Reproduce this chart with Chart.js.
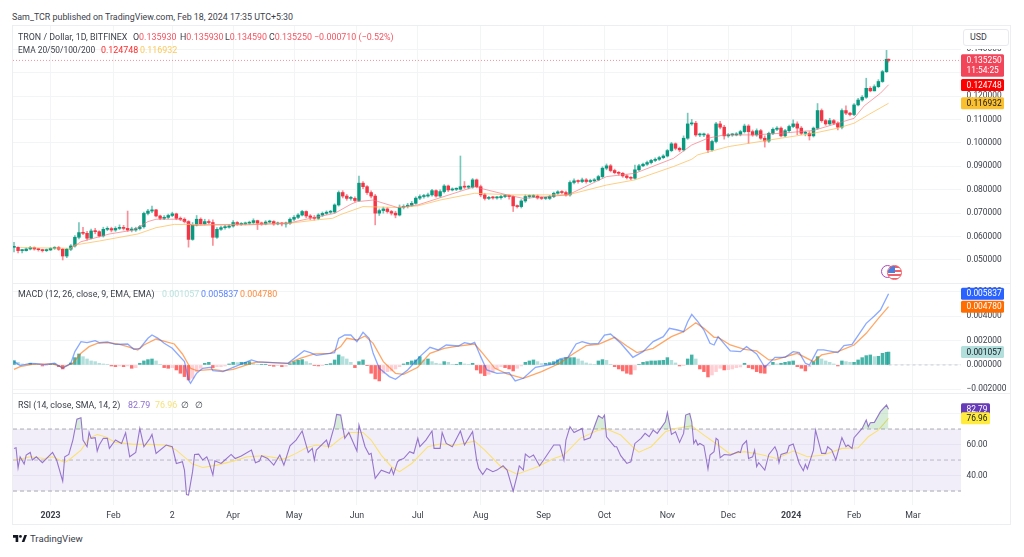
<!DOCTYPE html>
<html>
<head>
<meta charset="utf-8">
<title>TRON / Dollar</title>
<script src="https://cdn.jsdelivr.net/npm/chart.js@4/dist/chart.umd.js"></script>
<style>
  html, body { margin: 0; padding: 0; background: #fff; overflow: hidden; }
  body { width: 1024px; height: 557px; position: relative; font-family: Roboto, sans-serif; color: #3c404a; filter: blur(0.35px); }
  .abs { position: absolute; white-space: nowrap; }
  .txt { font-size: 8.9px; line-height: 12px; }
  canvas { position: absolute; left: 13px; }
  #frame { position: absolute; left: 12px; top: 25px; width: 999px; height: 500px; border: 1px solid #eceef2; box-sizing: border-box; }
  .sep { position: absolute; left: 13px; width: 998px; height: 1px; background: #eceef2; }
  .red { color: #f7525f; }
</style>
</head>
<body>
<div id="frame"></div>
<canvas id="price-chart" style="top:26px"></canvas>
<canvas id="macd-chart" style="top:284px"></canvas>
<canvas id="rsi-chart" style="top:394px"></canvas>
<div class="sep" style="top:283px"></div>
<div class="sep" style="top:393px"></div>

<div class="abs txt" style="left:12px;top:11px">Sam_TCR published on TradingView.com, Feb 18, 2024 17:35 UTC+5:30</div>
<div class="abs txt" style="left:18px;top:31px">TRON / Dollar, 1D, BITFINEX</div>
<div class="abs txt" style="left:133px;top:31px">O<span class="red">0.135930</span></div>
<div class="abs txt" style="left:180px;top:31px">H<span class="red">0.135930</span></div>
<div class="abs txt" style="left:225px;top:31px">L<span class="red">0.134590</span></div>
<div class="abs txt" style="left:269px;top:31px">C<span class="red">0.135250</span></div>
<div class="abs txt red" style="left:314px;top:31px">−0.000710 (−0.52%)</div>
<div class="abs txt" style="left:18px;top:44px;font-size:8.4px">EMA 20/50/100/200</div>
<div class="abs txt" style="left:101px;top:44px;color:#ff2a2a">0.124748</div>
<div class="abs txt" style="left:140px;top:44px;color:#fbc95a">0.116932</div>
<div class="abs txt" style="left:18px;top:288px">MACD (12, 26, close, 9, EMA, EMA)</div>
<div class="abs txt" style="left:162px;top:288px;color:#b9e2dd">0.001057</div>
<div class="abs txt" style="left:201px;top:288px;color:#5a83ff">0.005837</div>
<div class="abs txt" style="left:240px;top:288px;color:#ff8a3c">0.004780</div>
<div class="abs txt" style="left:18px;top:399px">RSI (14, close, SMA, 14, 2)</div>
<div class="abs txt" style="left:128px;top:399px;color:#8e6fd0">82.79</div>
<div class="abs txt" style="left:155px;top:399px;color:#f5e27a">76.96</div>
<div class="abs txt" style="left:181px;top:399px">∅</div>
<div class="abs txt" style="left:195px;top:399px">∅</div>

<!-- covers the upper half of the 0.14 tick like the original scale button -->
<div class="abs" style="left:961px;top:26px;width:49px;height:23px;background:#fff"></div>
<div class="abs txt" style="left:963px;top:29px;width:46px;height:17px;line-height:15px;border:1px solid #e8eaef;border-radius:3px;box-sizing:border-box;padding-left:6px;background:#fff">USD</div>

<!-- event markers -->
<div class="abs" style="left:881px;top:265px;width:13px;height:13px;border:1.5px solid #ab47bc;border-radius:50%;box-sizing:border-box;background:#fff"></div>
<div class="abs" style="left:887px;top:265px;width:15px;height:15px;border:1.5px solid #f0606a;border-radius:50%;box-sizing:border-box;overflow:hidden;background:repeating-linear-gradient(#f0606a 0 2px,#fff 2px 4px)">
  <div style="width:7px;height:7px;background:#4a7fe0"></div>
</div>

<svg class="abs" style="left:13px;top:535px" width="14" height="7" viewBox="0 0 16 8">
  <path d="M0 0h6v8H3V3H0z M10 8l3-8h3l-3 8z" fill="#131722"/><circle cx="8.5" cy="1.6" r="1.6" fill="#131722"/>
</svg>
<div class="abs" style="left:30px;top:532px;font-size:9.6px;line-height:13px;color:#3a3e48">TradingView</div>

<script>
// candle table, one row per 2 days. x = days since 2023-01-01, prices in 1/10000 USD
const PRICE_UNIT = 0.0001;
const MACD_UNIT = 0.000001;

const candleDays = [
  -18,-16,-14,-12,-10,-8,-6,-4,-2,0,
  2,4,6,8,10,12,14,16,18,20,
  22,24,26,28,30,32,34,36,38,40,
  42,44,46,48,50,52,54,56,58,60,
  62,64,66,68,70,72,74,76,78,80,
  82,84,86,88,90,92,94,96,98,100,
  102,104,106,108,110,112,114,116,118,120,
  122,124,126,128,130,132,134,136,138,140,
  142,144,146,148,150,152,154,156,158,160,
  162,164,166,168,170,172,174,176,178,180,
  182,184,186,188,190,192,194,196,198,200,
  202,204,206,208,210,212,214,216,218,220,
  222,224,226,228,230,232,234,236,238,240,
  242,244,246,248,250,252,254,256,258,260,
  262,264,266,268,270,272,274,276,278,280,
  282,284,286,288,290,292,294,296,298,300,
  302,304,306,308,310,312,314,316,318,320,
  322,324,326,328,330,332,334,336,338,340,
  342,344,346,348,350,352,354,356,358,360,
  362,364,366,368,370,372,374,376,378,380,
  382,384,386,388,390,392,394,396,398,400,
  402,404,406,408,410,412,413
];
const firstOpen = 554;
const closes = [
  554,540,540,547,553,547,544,540,543,550,
  553,546,517,546,560,597,617,614,593,624,
  621,603,631,634,628,635,638,635,628,628,
  634,642,699,709,714,688,678,682,690,697,
  678,674,664,588,650,674,654,664,660,597,
  631,638,640,645,660,652,654,657,660,668,
  657,654,662,664,654,657,654,657,674,682,
  692,707,688,682,678,692,699,704,705,735,
  788,773,763,763,754,828,813,788,773,700,
  711,718,707,700,692,725,728,734,742,764,
  771,773,778,796,773,792,816,799,802,802,
  813,811,811,842,813,778,763,766,765,766,
  771,773,771,731,728,752,771,771,773,765,
  763,763,771,785,791,788,778,831,838,835,
  842,835,838,842,856,892,902,882,873,870,
  859,852,849,885,902,909,916,925,930,937,
  944,967,996,977,970,1020,1081,1084,1034,1034,
  1034,970,1006,1081,1067,1030,1034,1034,1037,1048,
  1072,1048,1034,1052,1020,1008,1041,1058,1063,1030,
  1052,1070,1081,1063,1041,1041,1030,1063,1138,1095,
  1081,1095,1084,1067,1138,1127,1121,1162,1183,1195,
  1233,1222,1240,1262,1304,1357,1352
];
const highs = [
  575,556,546,552,558,556,549,546,547,553,
  557,558,550,550,566,604,660,640,622,632,
  635,625,640,642,640,642,650,648,709,640,
  640,648,705,716,730,716,692,690,696,704,
  700,684,680,668,660,690,680,674,672,672,
  638,645,648,652,668,664,660,662,666,676,
  670,662,668,670,668,662,660,662,680,690,
  698,712,710,694,690,698,705,710,712,740,
  795,796,780,772,770,858,835,818,795,780,
  718,726,724,712,708,735,736,742,750,770,
  778,780,786,802,800,800,822,820,808,808,
  944,835,818,848,846,820,785,772,772,772,
  776,780,778,774,735,758,778,778,780,778,
  770,768,776,790,796,796,794,838,846,842,
  850,848,845,848,862,898,910,908,888,878,
  874,864,856,905,908,914,922,930,936,943,
  950,972,1002,1000,982,1030,1127,1100,1092,1042,
  1042,1040,1012,1088,1092,1075,1040,1040,1044,1054,
  1080,1078,1055,1060,1058,1030,1046,1064,1070,1068,
  1058,1076,1098,1090,1070,1050,1048,1068,1168,1145,
  1100,1105,1100,1090,1145,1158,1130,1168,1190,1202,
  1276,1240,1248,1270,1310,1395,1359
];
const lows = [
  535,530,530,538,543,542,538,534,536,540,
  545,541,500,510,540,555,590,608,585,590,
  612,598,598,625,620,622,630,628,622,620,
  622,628,636,692,702,684,672,672,676,685,
  672,668,658,555,584,645,650,650,655,562,
  592,626,632,636,640,648,648,650,652,654,
  630,648,650,658,648,650,646,640,652,668,
  676,688,680,672,670,672,686,694,698,700,
  730,765,755,755,748,750,805,780,765,650,
  690,700,700,692,680,688,718,722,728,738,
  758,764,768,772,768,768,786,792,795,796,
  798,805,804,806,808,770,756,758,760,760,
  760,766,760,707,722,722,746,764,766,760,
  758,758,758,766,780,782,772,772,825,828,
  830,828,830,834,838,850,885,876,868,862,
  853,846,843,845,880,898,904,910,920,925,
  932,940,962,970,962,965,1015,1075,1028,1026,
  1026,958,965,1000,1060,1016,1024,1028,1030,1030,
  1042,998,1028,1028,1015,982,1002,1035,1052,1025,
  1026,1046,1065,1035,1035,1030,1012,1025,1058,1088,
  1075,1076,1078,1055,1060,1120,1115,1116,1158,1178,
  1190,1218,1222,1236,1258,1300,1345
];

const ema20Days = [10,15,29,41,48,52,64,70,80,97,117,126,140,148,151,159,171,181,209,212,225,233,255,274,288,307,316,324,332,347,360,376,388,396,401,409,413];
const ema20 = [550,578,611,628,664,674,674,647,650,650,657,674,699,738,749,756,724,735,813,806,778,763,778,856,870,934,991,1020,1034,1034,1041,1053,1084,1105,1158,1212,1248];
const ema50Days = [-15,10,12,24,43,52,61,80,107,118,131,139,143,154,171,181,192,209,227,255,274,288,307,316,319,325,334,360,376,388,396,403,413];
const ema50 = [553,550,564,581,611,638,652,651,654,657,671,678,694,728,724,731,756,785,778,778,820,842,899,930,949,963,984,1020,1041,1063,1084,1120,1169];

// MACD in millionths
const histValues = [
  355,218,82,55,137,82,55,-82,-55,55,
  82,-137,-328,-82,164,600,900,680,490,330,
  273,137,82,55,-82,-137,-82,-137,-82,-273,
  -218,137,330,437,490,330,55,-218,-273,-218,
  -410,-680,-955,-1230,-1090,-546,-273,137,218,-218,
  -137,-137,-82,82,218,190,218,218,273,110,
  55,55,55,-27,-110,-55,-137,-110,110,273,
  382,437,273,137,-27,-82,-55,27,110,410,
  820,680,490,218,-218,273,410,-55,-680,-1147,
  -1310,-680,-546,-490,-328,-137,82,218,328,410,
  680,410,490,273,137,82,273,218,55,55,
  218,82,55,137,-410,-680,-874,-764,-600,-328,
  -137,-218,-328,-490,-273,-82,218,328,410,273,
  110,137,190,273,410,464,600,600,600,490,
  328,164,82,55,328,437,382,55,-137,-328,
  -490,-680,-764,-410,55,218,273,328,328,355,
  382,600,382,164,-82,-55,490,820,490,-328,
  -546,-983,-820,-546,-273,-410,-382,-328,-218,-164,
  137,-218,-328,-546,-655,-683,-82,218,82,137,
  218,273,328,-137,-273,-490,-137,273,683,490,
  328,218,82,-82,328,273,218,218,410,600,
  764,820,683,710,955,1037,1057
];
const macdDays = [-18,-15,-10,-7,-3,2,6,10,12,15,18,22,24,28,32,38,41,44,48,50,53,56,60,66,68,69,72,75,79,80,85,90,99,102,117,125,128,131,140,142,145,148,151,154,157,159,162,167,170,176,182,187,191,195,201,204,207,209,212,215,220,226,229,233,239,248,251,255,259,262,266,270,273,276,281,287,292,297,302,305,309,312,314,316,319,322,325,327,329,335,340,343,348,352,357,362,366,369,372,374,378,381,388,391,395,402,406,409,413];
const macdLine = [273,-55,137,109,27,137,-273,137,1092,1911,1829,1993,1829,1884,1693,1720,1283,1365,2184,2457,2184,1775,1365,273,-1229,-1502,-683,-273,-191,-464,-546,-191,410,246,137,1174,1010,792,1010,2184,2457,2457,1911,2675,2184,956,-273,-956,-1174,-410,683,1447,1229,1638,1556,1829,1720,1856,683,-410,-683,-628,-1310,-1092,-191,82,491,628,1720,1911,1720,1775,2457,2539,1775,628,1092,1911,2320,3003,2867,2730,3549,4150,3549,2867,1775,1638,2320,1147,1092,1502,901,-191,628,628,1092,1010,137,0,1229,1229,1010,1583,1693,3413,4013,4505,5837];
const signalDays = [-18,-15,-9,1,6,11,15,19,23,28,33,38,43,46,52,61,65,69,72,80,85,90,99,102,117,123,130,138,143,146,151,155,159,164,170,174,181,187,194,200,209,213,219,225,233,242,251,258,264,270,278,284,289,297,306,312,318,322,327,329,335,342,348,354,357,368,376,380,388,396,402,408,413];
const signalLine = [-355,-137,55,82,-191,137,956,1502,1775,1829,1720,1502,1229,1638,2129,1720,901,-273,-464,-355,-491,-355,137,246,137,546,901,956,1502,2184,2048,2375,1775,273,-683,-764,-191,956,1365,1529,1720,956,-273,-737,-1092,-546,137,956,1583,1693,2266,1556,1010,1365,2320,2730,3467,3003,2266,2266,1638,1283,1147,410,410,956,273,819,1092,1638,2594,3822,4780];

const rsiDays = [-18,-17,-16,-15,-13,-12,-10,-9,-7,-4,1,3,6,7,9,11,13,15,16,18,19,20,22,23,24,26,28,29,32,35,37,39,42,44,46,49,50,52,57,60,62,65,66,67,68,70,71,73,75,77,78,80,81,84,85,89,91,94,99,101,103,104,107,110,113,115,118,121,124,127,129,130,131,136,137,140,141,143,145,147,149,151,152,155,157,158,160,163,167,168,169,171,172,174,177,179,181,182,185,188,189,192,193,195,198,202,204,208,210,211,213,215,218,220,223,225,228,230,231,233,234,236,238,241,243,248,251,253,254,256,258,262,263,266,270,272,273,274,278,279,281,284,286,288,291,293,295,297,299,303,304,306,308,310,312,313,315,316,317,318,319,320,322,324,325,327,328,329,330,332,335,339,340,341,343,344,346,347,348,349,352,354,357,358,359,360,363,364,366,369,371,372,373,376,377,380,382,383,385,387,390,392,393,395,396,400,402,403,404,406,409,412,413];
const rsiLine = [57.5,57.9,45,52.1,47.4,53.2,54.9,50,52.1,48.3,54.9,50,36.4,52.1,53.6,62.9,76.4,77.3,62.9,58.6,67.8,64,64.4,55.8,59.7,64,64,57.5,62.9,60.7,67.6,52.1,54.9,70.4,58.6,64,66.5,54.3,59.7,58.6,47.8,48.9,43.5,27.8,27.4,42.5,53.6,53.8,50,52.1,48.9,40.3,49.5,47.8,48.9,53.6,51,52.6,56.4,48.3,49.3,52.8,51,46.7,53.2,46.7,59.2,62.9,68.7,54.9,57.5,50,56.4,62.9,58.6,72.5,79.4,79,64,67.8,61.8,55.8,72.6,58.6,53.6,54.3,38.2,43.5,41.4,44.6,40.7,48.9,50,51,55.4,54.3,64,58.6,62.9,68.7,57.5,57.5,67.8,60.7,58.6,68.7,59.7,68.3,50,44.6,40.7,44.6,42.5,43.5,46.3,43.5,30,40.3,46.3,43.5,53.8,51.7,53.2,46.3,50,59.7,59.7,50,62.9,71.5,67.8,70.4,62.9,64.4,78.6,76.9,79,65,58.6,58.6,52.8,47.8,48.9,60.7,64,67.2,65,69.3,67.2,74.7,80.7,66.5,68.2,61.4,67.2,79,80,74.7,60.7,62.9,59.7,60.7,59.2,44.2,53.2,55.4,64,62.9,51.5,53.6,53.2,55.4,54.9,59.7,62.4,51,52.1,56.4,45.7,48.3,43.5,53.6,58.6,55.4,48.3,53.6,54.9,59.2,60.3,47.8,43.1,47.2,44.2,56.4,69.3,54.3,54.3,58.6,56.4,50,64.4,58.6,59.7,57.5,64.4,70.4,75.8,71.5,74.1,74.3,81.2,85.5,82.79];
const rsiMaDays = [-18,-15,-10,-3,1,7,10,15,19,23,27,32,41,48,57,62,70,75,82,90,97,105,115,121,126,131,138,143,148,154,158,163,168,172,178,186,192,200,209,214,222,230,240,248,253,261,270,274,281,288,290,296,303,308,316,322,329,335,342,350,358,366,373,381,390,398,403,408,413];
const rsiMaLine = [50,50.6,52.1,51,52.1,48.5,51,56.4,64,66.5,65,61.4,60.1,60.1,59.7,56.4,47.4,45.2,46.7,49.3,52.1,52.8,50.6,54.3,57.9,59.7,58.6,64,67.8,67.8,62.9,53.2,45.7,42.5,47.8,58.6,60.3,59.7,62.2,56.4,45.7,40.9,45.7,51,53.2,64,69.3,70,66.1,57.1,55.1,58.6,68.2,70.4,72.1,66.1,59.7,53.8,55.4,53.6,51,55.8,52.1,53.2,57.5,57.9,65,69.3,76.96];

// time axis
const monthDays = [0,31,60,90,120,151,181,212,243,273,304,334,365,396,425];
const monthLabels = ['2023','Feb','2','Apr','May','Jun','Jul','Aug','Sep','Oct','Nov','Dec','2024','Feb','Mar'];
const priceTicks = [0.05,0.06,0.07,0.08,0.09,0.10,0.11,0.12,0.13,0.14];
const macdTicks = [-0.002,0,0.002,0.004,0.006];
const rsiTicks = [40,60,80];

const FONT = 'Roboto, sans-serif';
const UP = '#089981', DOWN = '#f23645';
const X_MIN = -18.5, X_MAX = 448.7;
const AXIS_WIDTH = 50;

const opens = closes.map((c, i) => i === 0 ? firstOpen : closes[i - 1]);

function pts(days, values, unit = 1) {
  return days.map((d, i) => ({ x: d, y: values[i] * unit }));
}

function line(days, values, color, width, unit = 1, extra = {}) {
  return Object.assign({
    type: 'line', data: pts(days, values, unit), borderColor: color, borderWidth: width,
    pointRadius: 0, tension: 0, fill: false, order: 1
  }, extra);
}

// price tags on the right scale
function tagPlugin(tags) {
  return {
    id: 'tags',
    afterDraw(chart) {
      const c = chart.ctx, scale = chart.scales.y, left = chart.chartArea.right;
      tags.forEach(t => {
        const y = scale.getPixelForValue(t.value);
        const h = t.lines.length * 10.5 + 1.5;
        c.fillStyle = t.bg;
        c.beginPath();
        c.roundRect(left, y - 6, t.width, h, 1.5);
        c.fill();
        c.fillStyle = t.color;
        c.font = '8.4px ' + FONT;
        c.textBaseline = 'middle';
        c.textAlign = 'left';
        t.lines.forEach((s, i) => c.fillText(s, left + 5.5, y + i * 10.5 + 0.5));
      });
    }
  };
}

function baseOptions(yMin, yMax, yTicks, yFormat, showTime) {
  return {
    responsive: false,
    animation: false,
    layout: { padding: 0 },
    plugins: { legend: { display: false }, tooltip: { enabled: false } },
    scales: {
      x: {
        type: 'linear', min: X_MIN, max: X_MAX, offset: false,
        afterBuildTicks: s => { s.ticks = monthDays.map(v => ({ value: v })); },
        afterFit: s => { s.height = showTime ? 20 : 0; s.paddingLeft = 0; s.paddingRight = 0; },
        grid: { color: '#f3f4f6', drawTicks: false, offset: false },
        border: { display: false },
        ticks: {
          display: showTime, autoSkip: false, maxRotation: 0, padding: 6, color: '#3c404a',
          font: ctx => ({ family: FONT, size: 8.8, weight: (ctx.tick && ctx.tick.value % 365 === 0) ? 'bold' : 'normal' }),
          callback: v => monthLabels[monthDays.indexOf(v)]
        }
      },
      y: {
        position: 'right', min: yMin, max: yMax,
        afterBuildTicks: s => { s.ticks = yTicks.map(v => ({ value: v })); },
        afterFit: s => { s.width = AXIS_WIDTH; s.paddingTop = 0; s.paddingBottom = 0; },
        grid: { color: '#f3f4f6', drawTicks: false },
        border: { display: false },
        ticks: { padding: 5.5, color: '#3c404a', font: { family: FONT, size: 8.4 }, callback: yFormat }
      }
    }
  };
}

function size(id, h) {
  const el = document.getElementById(id);
  el.width = 998; el.height = h;
  el.style.width = '998px'; el.style.height = h + 'px';
  return el;
}

const lastClose = closes[closes.length - 1];

new Chart(size('price-chart', 257), {
  type: 'bar',
  data: {
    datasets: [
      { data: candleDays.map((d, i) => ({ x: d, y: [lows[i] * PRICE_UNIT, highs[i] * PRICE_UNIT] })),
        backgroundColor: closes.map((c, i) => c >= opens[i] ? 'rgba(8,153,129,.55)' : 'rgba(242,54,69,.55)'),
        barThickness: 1, grouped: false, order: 3 },
      { data: candleDays.map((d, i) => ({ x: d, y: [opens[i] * PRICE_UNIT, closes[i] * PRICE_UNIT] })),
        backgroundColor: closes.map((c, i) => c >= opens[i] ? UP : DOWN),
        barThickness: 2.8, minBarLength: 1, grouped: false, order: 2 },
      line(ema20Days, ema20, 'rgba(244,110,120,.65)', 1, PRICE_UNIT),
      line(ema50Days, ema50, 'rgba(253,190,90,.75)', 1, PRICE_UNIT),
      line([X_MIN, X_MAX], [lastClose, lastClose], 'rgba(242,54,69,.55)', 1, PRICE_UNIT, { borderDash: [1, 2] })
    ]
  },
  options: baseOptions(0.04018, 0.1499, priceTicks, v => v.toFixed(6), false),
  plugins: [tagPlugin([
    { value: 0.13525, lines: ['0.135250', '11:54:25'], bg: '#f2455a', color: '#fff', width: 43 },
    { value: 0.124748, lines: ['0.124748'], bg: '#ff0000', color: '#fff', width: 43 },
    { value: 0.116932, lines: ['0.116932'], bg: '#fbc02d', color: '#131722', width: 43 }
  ])]
});

new Chart(size('macd-chart', 109), {
  type: 'bar',
  data: {
    datasets: [
      { data: candleDays.map((d, i) => ({ x: d, y: histValues[i] * MACD_UNIT })),
        backgroundColor: histValues.map((v, i) => {
          const rising = i === 0 || v >= histValues[i - 1];
          if (v >= 0) return rising ? 'rgba(38,166,154,.85)' : '#b2dfdb';
          return rising ? '#ffcdd2' : 'rgba(255,82,82,.85)';
        }),
        barThickness: 2.8, order: 3 },
      line(macdDays, macdLine, 'rgba(41,98,255,.55)', 1.3, MACD_UNIT),
      line(signalDays, signalLine, 'rgba(255,109,0,.6)', 1.3, MACD_UNIT),
      line([413, X_MAX], [0, 0], '#c9ccd3', 1, 1, { borderDash: [3, 3] })
    ]
  },
  options: baseOptions(-0.0023, 0.00664, macdTicks, v => v < 0 ? '−' + Math.abs(v).toFixed(6) : v.toFixed(6), false),
  plugins: [tagPlugin([
    { value: 0.005837, lines: ['0.005837'], bg: '#2962ff', color: '#fff', width: 43 },
    { value: 0.00478, lines: ['0.004780'], bg: '#ff6d00', color: '#fff', width: 43 },
    { value: 0.001057, lines: ['0.001057'], bg: '#b2dfdb', color: '#131722', width: 43 }
  ])]
});

new Chart(size('rsi-chart', 131), {
  type: 'bar',
  data: {
    datasets: [
      // 30..70 band
      line([X_MIN, X_MAX], [70, 70], '#a9abb1', 1, 1, { borderDash: [4, 3], fill: '+1', backgroundColor: 'rgba(126,87,194,.1)', order: 5 }),
      line([X_MIN, X_MAX], [30, 30], '#a9abb1', 1, 1, { borderDash: [4, 3], order: 5 }),
      line([X_MIN, X_MAX], [50, 50], '#c2c4c9', 1, 1, { borderDash: [4, 3], order: 5 }),
      line(rsiDays, rsiLine, 'rgba(126,87,194,.8)', 1.1, 1, {
        order: 1,
        fill: { target: { value: 70 }, above: 'rgba(76,175,80,.22)', below: 'rgba(0,0,0,0)' }
      }),
      line(rsiMaDays, rsiMaLine, 'rgba(251,224,100,.9)', 1.1, 1, { order: 2 })
    ]
  },
  options: baseOptions(21, 92.6, rsiTicks, v => v.toFixed(2), true),
  plugins: [tagPlugin([
    { value: 82.79, lines: ['82.79'], bg: '#673ab7', color: '#fff', width: 29 },
    { value: 76.96, lines: ['76.96'], bg: '#ffeb3b', color: '#131722', width: 29 }
  ])]
});
</script>
</body>
</html>
